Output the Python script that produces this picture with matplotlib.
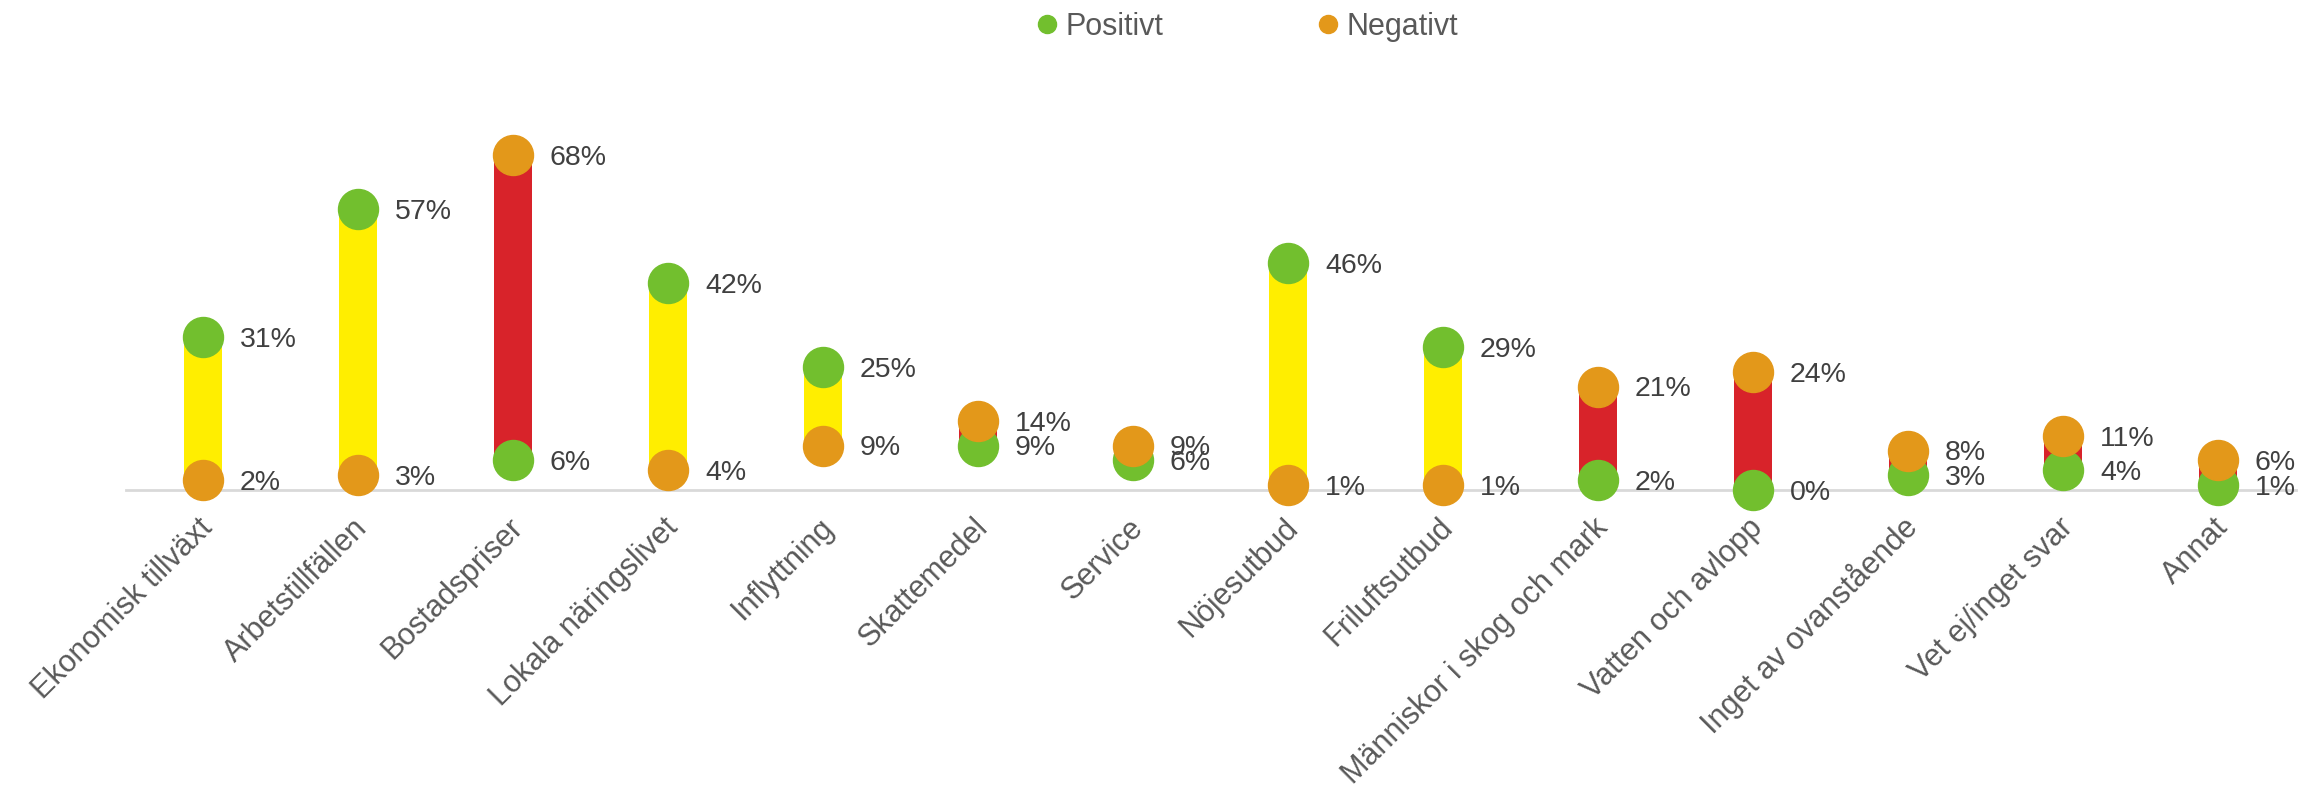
import matplotlib.pyplot as plt
from matplotlib.lines import Line2D
from matplotlib.transforms import ScaledTranslation

plt.rcParams['font.family'] = ['Liberation Sans', 'DejaVu Sans']

# data
categories = ["Ekonomisk tillväxt", "Arbetstillfällen", "Bostadspriser", "Lokala näringslivet",
              "Inflyttning", "Skattemedel", "Service", "Nöjesutbud", "Friluftsutbud",
              "Människor i skog och mark", "Vatten och avlopp", "Inget av ovanstående",
              "Vet ej/inget svar", "Annat"]
positivt = [31, 57, 6, 42, 25, 9, 6, 46, 29, 2, 0, 3, 4, 1]
negativt = [2, 3, 68, 4, 9, 14, 9, 1, 1, 21, 24, 8, 11, 6]

green = '#72BF2E'
orange = '#E3981A'
yellow = '#FFEE00'
red = '#D8232A'
textcol = '#404040'
labelcol = '#595959'

fig = plt.figure(figsize=(23.02, 7.98), dpi=100)
ax = fig.add_axes([125.5 / 2302, 1 - 490 / 798, 2170 / 2302, 394 / 798])

x = list(range(len(categories)))
lows = [min(p, n) for p, n in zip(positivt, negativt)]
heights = [abs(p - n) for p, n in zip(positivt, negativt)]
barcols = [yellow if p > n else red for p, n in zip(positivt, negativt)]

ax.bar(x, heights, bottom=lows, width=0.25, color=barcols, zorder=2)
ax.plot(x, positivt, 'o', color=green, markersize=28.8, linestyle='none', zorder=3, clip_on=False)
ax.plot(x, negativt, 'o', color=orange, markersize=28.8, linestyle='none', zorder=4, clip_on=False)

for i in x:
    ax.annotate(f"{positivt[i]}%", (i, positivt[i]), xytext=(26.6, -2), textcoords='offset points',
                va='center', ha='left', fontsize=20.5, color=textcol, zorder=5)
    ax.annotate(f"{negativt[i]}%", (i, negativt[i]), xytext=(26.6, -2), textcoords='offset points',
                va='center', ha='left', fontsize=20.5, color=textcol, zorder=5)

ax.set_xlim(-0.5, len(categories) - 0.5)
ax.set_ylim(0, 80)
ax.set_yticks([])
for s in ['top', 'right', 'left']:
    ax.spines[s].set_visible(False)
ax.spines['bottom'].set_color('#D9D9D9')
ax.spines['bottom'].set_linewidth(2)
ax.spines['bottom'].set_zorder(1)

ax.set_xticks(x)
ax.set_xticklabels(categories, fontsize=22, color=labelcol)
ax.tick_params(axis='x', length=0, pad=28)
offset = ScaledTranslation(11 / 100, 0, fig.dpi_scale_trans)
for lab in ax.get_xticklabels():
    lab.set_rotation(45)
    lab.set_ha('right')
    lab.set_va('baseline')
    lab.set_rotation_mode('anchor')
    lab.set_transform(lab.get_transform() + offset)

handles = [Line2D([], [], marker='o', color=green, linestyle='none', markersize=13),
           Line2D([], [], marker='o', color=orange, linestyle='none', markersize=13)]
fig.legend(handles, ['Positivt', 'Negativt'], loc='center', bbox_to_anchor=(1248 / 2302, 1 - 27 / 798),
           ncol=2, frameon=False, fontsize=22, labelcolor=labelcol, handlelength=0.6,
           handletextpad=0.3, columnspacing=5.1)

fig.savefig('out.png', dpi=100)
